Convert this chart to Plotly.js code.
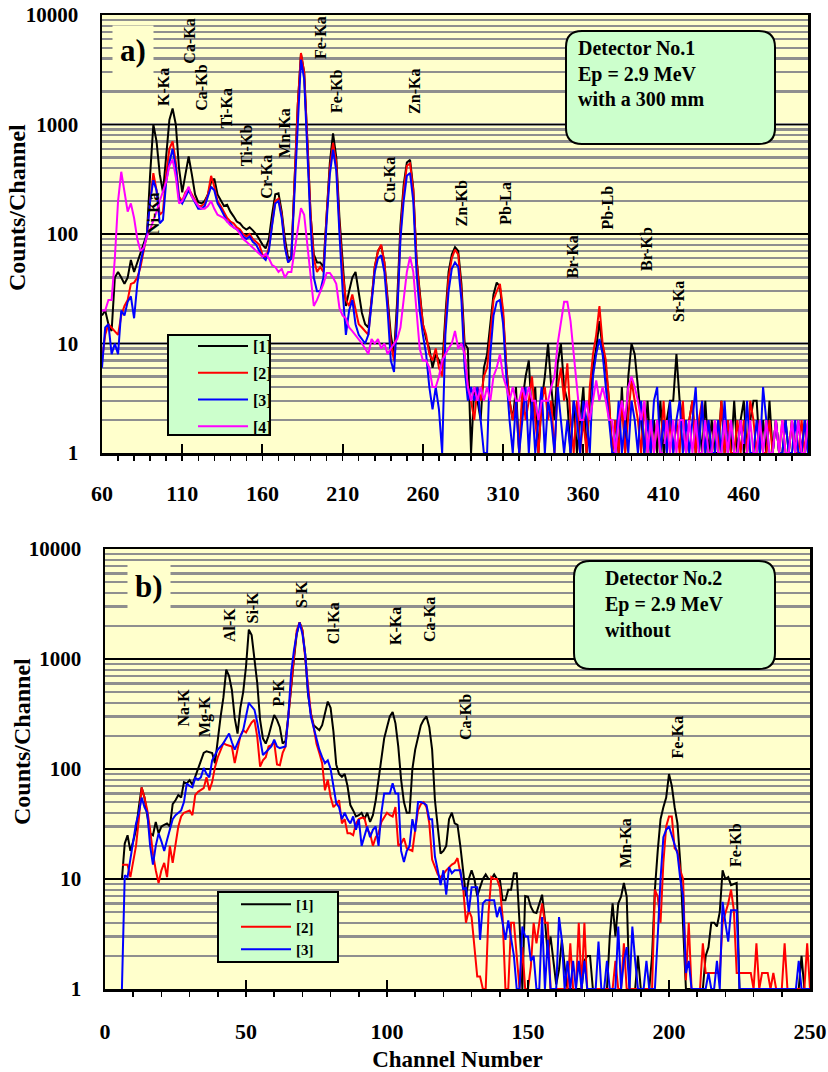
<!DOCTYPE html>
<html><head><meta charset="utf-8">
<script src="https://cdn.plot.ly/plotly-3.0.1.min.js"></script>
<style>html,body{margin:0;padding:0;background:#fff}</style>
</head><body><div id="chart" style="width:828px;height:1072px"></div>
<script>
// ---------------- DATA: panel a) Detector No.1 ----------------
const topChannels = [
60,62,64,66,68,70,72,74,76,78, 80,82,84,86,88,90,92,94,96,98,
100,102,104,106,108,110,112,114,116,118, 120,122,124,126,128,130,132,134,136,138,
140,142,144,146,148,150,152,154,156,158, 160,162,164,166,168,170,172,174,176,178,
180,182,184,186,188,190,192,194,196,198, 200,202,204,206,208,210,212,214,216,218,
220,222,224,226,228,230,232,234,236,238, 240,242,244,246,248,250,252,254,256,258,
260,262,264,266,268,270,272,274,276,278, 280,282,284,286,288,290,292,294,296,298,
300,302,304,306,308,310,312,314,316,318, 320,322,324,326,328,330,332,334,336,338,
340,342,344,346,348,350,352,354,356,358, 360,362,364,366,368,370,372,374,376,378,
380,382,384,386,388,390,392,394,396,398, 400,402,404,406,408,410,412,414,416,418,
420,422,424,426,428,430,432,434,436,438, 440,442,444,446,448,450,452,454,456,458,
460,462,464,466,468,470,472,474,476,478, 480,482,484,486,488,490,492,494,496,498,
500];
const topSeries1 = [
18,20,15,13,40,45,40,35,40,58, 45,55,70,85,100,350,1000,700,350,240,
500,1100,1400,1000,400,240,350,510,350,230, 195,190,200,230,300,320,230,200,180,185,
160,145,130,125,115,110,115,108,100,90, 80,74,90,150,230,235,160,90,60,62,
300,1500,4400,3000,700,150,65,55,55,50, 150,450,830,500,140,50,22,30,40,45,
30,19,15,14,25,50,70,78,55,25, 12,8,25,120,280,450,475,260,60,30,
15,11,9,6,8,7,6,18,45,65, 76,70,35,10,9,1,4,3,2,6,
8,15,28,36,33,18,6,3,2,4, 1,3,5,7,2,4,1,3,5,10,
4,2,6.6,10,4,3,1,3,1,2, 4,1,3,6,9,16,9,6,3,1,
2,1,4,1,5,10,8,4,2,1, 3,1,2,1,3,1,2,3,3,8,
3,2,1,2,3,1,2,1,3,1, 2,1,1,3,1,2,1,3,1,2,
3,1,2,3,3,1,2,1,3,1, 2,1,1,2,1,2,1,2,1,2,
1];
const topSeries2 = [
7,12,15,14,13,12,18,22,25,35, 36,40,50,70,100,200,360,250,150,160,
350,600,700,450,220,200,240,260,230,200, 180,180,190,230,340,270,200,180,160,140,
130,125,115,110,100,95,100,90,85,80, 65,60,75,130,200,210,150,80,55,60,
300,1500,4500,3000,700,150,60,45,50,45, 150,400,680,450,120,45,25,22,28,20,
15,14,13,12,25,50,70,80,55,25, 10,7,20,100,250,420,440,250,60,28,
15,12,8,7,9,6,5,15,40,60, 72,65,30,8,4,3,2,4,3,5,
6,12,25,30,35,20,6,3,2,3, 1,4,2,3,5,2,1,3,4,2,
3,1,4,6,3,6.6,2,1,3,1, 2,1,4,8,12,22,10,7,3,1,
2,1,3,1,2,4.6,3,2,1,3, 1,2,1,2,1,3,1,2,1,2,
1,3,1,2,3,1,2,3,1,2, 1,2,1,3,1,2,1,1,2,1,
2,1,3,2,1,2,1,1,2,1, 2,1,2,1,1,2,1,1,2,1,
2];
const topSeries3 = [
6,14,15,8,10,8,20,18,24,27, 17,35,55,75,100,200,310,250,125,135,
300,450,600,400,210,190,220,250,220,190, 170,170,180,220,270,250,190,170,150,130,
125,115,110,105,95,90,95,85,80,70, 62,58,70,120,190,200,140,75,55,60,
250,1300,3900,2600,600,120,40,30,30,40, 130,350,590,380,100,30,12,20,25,15,
12,11,10,12,22,45,60,64,45,20, 7,5.5,18,90,200,340,360,200,45,20,
12,8,4,2.5,4,2.5,1,12,30,48, 55,50,25,6,3,4,3,4,2,1,
1,8,18,24,25,15,5,2,1,3, 1,2,4,1,3,1,2,4,1,3,
2,1,4,2,1,2,1,3,2,1, 3,2,1,5,8,11,8,4,2,1,
1,3,1,2,1,3,2,1,3,1, 2,1,3,4,1,2,1,3,1,2,
3,1,2,1,2,4,1,3,1,2, 1,1,2,1,3,1,2,1,1,2,
1,3,1,1,2,1,4,2,1,1, 2,1,1,2,1,1,2,1,1,2,
1];
const topSeries4 = [
20,20,25,25,60,200,370,250,160,190, 140,90,70,75,95,110,130,160,200,240,
300,420,480,330,190,200,230,270,220,200, 180,170,170,180,200,170,150,145,140,130,
120,115,110,100,90,85,80,75,70,66, 62,66,60,52,50,45,48,40,45,45,
70,120,172,150,80,40,22,25,30,35, 44,44,40,35,21,18,17,14,13,12,
11,10,9,8,11,10,11,9,10,8, 9,10,11,14,25,45,62,45,20,9,
7,7,6,4,4,5,7,8,9,10, 13,9,10,8,4,3,4,3,4,3,
4,3,5,6,8,5,4,3,4,3, 3,4,3,4,3,3,2,3,3,3,
4,5,10,16,24,24,16,8,4,2, 2,3,2,3,4.6,3,4,3,2,2,
1,2,3,2,4,5,4,3,2,3, 1,2,1,2,1,1,2,1,2,1,
2,2,1,2,1,2,1,1,2,1, 1,2,1,1,2,1,2,1,1,2,
1,1,2,1,1,2,1,2,1,1, 2,1,2,1,1,2,1,2,1,1,
2];
const topSeriesNames = ['[1]', '[2]', '[3]', '[4]'];
const topPeakNames = ['K-Ka','Ca-Ka','Ca-Kb','Ti-Ka','Ti-Kb','Cr-Ka','Mn-Ka','Fe-Ka','Fe-Kb','Cu-Ka','Zn-Ka','Zn-Kb','Pb-La','Br-Ka','Pb-Lb','Br-Kb','Sr-Ka','Ni-Ka'];
const topPeakChannels = [98, 114, 121.5, 137, 150.5, 162, 174, 196.5, 206.5, 239.5, 255, 284, 311, 353, 375, 399, 419, 92.5];

// ---------------- DATA: panel b) Detector No.2 ----------------
const bottomChannels = [
6,7,8,9,10,11,12,13,14,15, 16,17,18,19,20,21,22,23,24,25,
26,27,28,29,30,31,32,33,34,35, 36,37,38,39,40,41,42,43,44,45,
46,47,48,49,50,51,52,53,54,55, 56,57,58,59,60,61,62,63,64,65,
66,67,68,69,70,71,72,73,74,75, 76,77,78,79,80,81,82,83,84,85,
86,87,88,89,90,91,92,93,94,95, 96,97,98,99,100,101,102,103,104,105,
106,107,108,109,110,111,112,113,114,115, 116,117,118,119,120,121,122,123,124,125,
126,127,128,129,130,131,132,133,134,135, 136,137,138,139,140,141,142,143,144,145,
146,147,148,149,150,151,152,153,154,155, 156,157,158,159,160,161,162,163,164,165,
166,167,168,169,170,171,172,173,174,175, 176,177,178,179,180,181,182,183,184,185,
186,187,188,189,190,191,192,193,194,195, 196,197,198,199,200,201,202,203,204,205,
206,207,208,209,210,211,212,213,214,215, 216,217,218,219,220,221,222,223,224,225,
226,227,228,229,230,231,232,233,234,235, 236,237,238,239,240,241,242,243,244,245,
246,247,248,249,250];
const bottomSeries1 = [
10,21,25,18,22,28,45,68,55,38, 26,25,33,26,30,31,32,30,48,52,
58,55,76,74,79,72,85,100,120,140, 145,142,140,113,190,300,450,800,700,520,
290,210,360,500,850,1850,1650,1000,600,280, 190,170,200,250,310,280,240,170,180,300,
600,1000,1700,2150,1830,1100,480,320,250,235, 225,250,330,410,360,220,110,90,85,90,
70,47,42,37,38,40,35,40,33,38, 52,80,130,190,240,300,330,260,160,80,
50,40,40,100,150,195,250,280,300,240, 150,52,28,17,18,20,35,40,32,31,
20,12,7,10,12,10,7,8.4,10,11, 10,10,11,10,10,6.4,6.4,8,8,11.3,
11.3,4,1,7,6.9,5.6,5,4.9,6,7.2, 4.2,2.1,3,1.8,1.1,1.5,2.8,1.6,1,1,
1,1,1,1,1.8,2,2,1,1,1, 1,1,1,3,6,3,6,6.9,9.2,6.9,
1,1,1,2,1,1,1,1,2,8, 18,35,45,55,90,70,45,32,14,3.4,
1,1,1,1,1,1,1,2,2.4,4, 4,3.7,5,12,10,10.4,8.8,9,9.2,1,
1,1,1,1,1,1,1,1,1,1, 1,1,1,1,1,1,1,1,1,1,
1,2,1,1,1];
const bottomSeries2 = [
13.5,13.5,13.5,10.4,15,20,35,68,55,42, 28,17,12,9.2,12,14,10.4,20,14,21,
30,37,40,41,42,38,58,62,65,67, 84,64,76,104,128,150,172,166,163,160,
113,150,200,225,215,240,265,280,195,105, 120,128,160,165,175,110,108,140,160,300,
600,1050,1830,2150,1830,1000,550,320,240,170, 140,113,64,80,56,45,48,52,32,35,
26,26,25,32,35,36,36,28,26,20, 24,26,33,36,40,38,37,45,20,21,
23.5,19,18.5,18,28,42,48,50,45,32, 15,13,11,10.4,11,12,12.8,13.5,14,15.5,
11.3,8.4,4,5.2,4.5,2.5,1.3,1.3,1,1, 4.9,10.4,10,10,8.4,4.5,1,1,4,4,
2.1,1,2.4,1,1,1.6,4,2.6,4,6, 4,4,1,1,1,1,1,1,1,2.6,
1,1,4,1,4,1,1,1,1,1, 1,1,1,1,1,1.8,1,1,2.6,1,
1,1,1,1,1,1,1,1,1,8, 6.9,4,14,30,37,37,19,18,12,10,
1.2,4,1,1,1,1,2.6,1.4,1.4,1.4, 1.4,1.4,1.4,4,4.9,6,8,5.2,1.4,1.4,
1.4,1.4,1.4,1.4,1,2.6,1,1.4,1.4,1.4, 1,1.4,1,1,1,2.6,1,1,1,1,
1,1,1,2.6,1];
const bottomSeries3 = [
1,10.8,10.4,15,22,32,40,55,45,40, 20,13.5,20,26,22,18,22.6,28,35,38,
40,42,50,74,70,68,83,80,84,102, 90,84,120,135,150,160,172,190,210,175,
150,172,200,225,300,400,370,345,265,185, 134,142,150,160,185,160,155,158,160,300,
750,1200,1700,2150,1700,1100,500,300,240,195, 150,128,113,120,100,70,49,45,35,40,
35,32,37,28,35,20,25,30,24,28, 30,20,40,60,60,60,74,60,60,18,
14.3,18,20,35,27,50,50,49,47,35, 35,16,12,8.8,12,7.2,12.8,11.3,12,12,
12,8,8.4,5,8.4,8.4,8.4,2.8,6,6.4, 6.4,6.4,6.4,4.5,5.6,4,2.8,4.2,3,2,
1,1,3.7,3,3,1.8,2,1,1,4.5, 1,2.8,1,1,1,4.5,2.8,1,1.8,1,
1.8,1,1.8,1,1.8,1,1,1,1,2.7, 1,1,1.8,1,1,1,3.7,1,1.8,2.4,
1,3.7,1.8,1,1,1,1.8,1,1,1, 3,10,24,28,30,25,20,17,10,6.9,
1.4,1.8,1,1,1,1,1,1,1.4,1, 1,1.8,1,6.2,4,2.7,5.2,5.2,5.2,1,
1,1,1,1,1,1,1,1,1,1, 1,1,1,1,1,1,1,1,1,1,
1.8,1,1,1,1];
const bottomSeriesNames = ['[1]', '[2]', '[3]'];
const bottomPeakNames = ['Na-K','Mg-K','Al-K','Si-K','P-K','S-K','Cl-Ka','K-Ka','Ca-Ka','Ca-Kb','Mn-Ka','Fe-Ka','Fe-Kb'];
const bottomPeakChannels = [27.5, 35.5, 44, 52.3, 61.2, 69.5, 80.9, 102.8, 114.9, 127.7, 184.4, 203, 223.4];

const yTickValues = [1, 10, 100, 1000, 10000];
const yTickLabels = ['1', '10', '100', '1000', '10000'];

// ---------------- STYLE / LAYOUT ----------------
const W = 828, H = 1072;
const PX = v => v / W;
const PY = v => 1 - v / H;
const FAM = '"Liberation Serif", "Times New Roman", Times, serif';
const seriesColors = ['#000000', '#FF0000', '#0000FF', '#FF00FF'];
// vertical pixel centres of the rotated peak labels (style only)
const topPeakLabelY = [87, 41, 88, 108, 145, 177, 133, 38, 91, 180, 91, 203, 203, 257, 207, 249, 302, 213];
const bottomPeakLabelY = [708, 717, 625, 607, 693, 594, 623, 626, 620, 717, 843, 737, 845];

const topY = [topSeries1, topSeries2, topSeries3, topSeries4];
const botY = [bottomSeries1, bottomSeries2, bottomSeries3];

const traces = [];
topY.forEach((ys, i) => traces.push({
  type: 'scatter', mode: 'lines', x: topChannels, y: ys, name: topSeriesNames[i],
  xaxis: 'x', yaxis: 'y', legend: 'legend', legendgroup: 'a' + i,
  line: {color: seriesColors[i], width: 2}
}));
botY.forEach((ys, i) => traces.push({
  type: 'scatter', mode: 'lines', x: bottomChannels, y: ys, name: bottomSeriesNames[i],
  xaxis: 'x2', yaxis: 'y2', legend: 'legend2', legendgroup: 'b' + i,
  line: {color: seriesColors[i], width: 2}
}));

function xAxis(domain, range, anchor, standoff) {
  return {
    domain, range, anchor, tick0: range[0] === 60 ? 60 : 0, dtick: 50,
    ticks: 'inside', ticklen: 9, tickwidth: 2, tickcolor: '#000',
    minor: {dtick: 10, ticks: 'outside', ticklen: 5, tickwidth: 1.5, tickcolor: '#000', showgrid: false},
    showline: true, linewidth: 2.5, linecolor: '#000', mirror: true,
    showgrid: false, zeroline: false, ticklabelstandoff: standoff,
    tickfont: {family: FAM, size: 22, weight: 'bold', color: '#000'}
  };
}
function yAxis(domain, anchor) {
  return {
    domain, anchor, type: 'log', range: [0, 4],
    tickmode: 'array', tickvals: yTickValues, ticktext: yTickLabels,
    ticks: '', showline: true, linewidth: 2.5, linecolor: '#000', mirror: true,
    showgrid: true, gridcolor: '#000', gridwidth: 1.6, zeroline: false,
    minor: {dtick: 'D1', showgrid: true, gridcolor: '#8f8f8f', gridwidth: 2.2, ticks: ''},
    ticklabelstandoff: 17,
    tickfont: {family: FAM, size: 21, weight: 'bold', color: '#000'}
  };
}

const xa = xAxis([PX(102), PX(808)], [60, 500], 'y', 19);
const xb = xAxis([PX(105), PX(810)], [0, 250], 'y2', 21);
xb.title = {text: 'Channel Number', standoff: 14, font: {family: FAM, size: 23, weight: 'bold', color: '#000'}};

function roundedBox(x0, y0, x1, y1, r) {
  const X = v => (v / W).toFixed(5), Y = v => (1 - v / H).toFixed(5);
  return `M${X(x0 + r)},${Y(y0)} L${X(x1 - r)},${Y(y0)} Q${X(x1)},${Y(y0)} ${X(x1)},${Y(y0 + r)} ` +
    `L${X(x1)},${Y(y1 - r)} Q${X(x1)},${Y(y1)} ${X(x1 - r)},${Y(y1)} L${X(x0 + r)},${Y(y1)} ` +
    `Q${X(x0)},${Y(y1)} ${X(x0)},${Y(y1 - r)} L${X(x0)},${Y(y0 + r)} Q${X(x0)},${Y(y0)} ${X(x0 + r)},${Y(y0)} Z`;
}

const shapes = [
  {type: 'path', xref: 'paper', yref: 'paper', path: roundedBox(566, 31, 775, 144, 16), fillcolor: '#CCFFCC', line: {color: '#000', width: 2}, layer: 'above'},
  {type: 'path', xref: 'paper', yref: 'paper', path: roundedBox(574, 561, 775, 669, 16), fillcolor: '#CCFFCC', line: {color: '#000', width: 2}, layer: 'above'},
  {type: 'rect', xref: 'paper', yref: 'paper', x0: PX(168), x1: PX(270), y0: PY(435), y1: PY(335), fillcolor: '#CCFFCC', line: {color: '#000', width: 2}, layer: 'above'},
  {type: 'rect', xref: 'paper', yref: 'paper', x0: PX(218), x1: PX(338), y0: PY(962), y1: PY(892), fillcolor: '#CCFFCC', line: {color: '#000', width: 2}, layer: 'above'}
];

const bold = (size) => ({family: FAM, size, weight: 'bold', color: '#000'});
const annotations = [];
annotations.push({xref: 'paper', yref: 'paper', x: PX(17), y: PY(208), xanchor: 'center', yanchor: 'middle', textangle: -90,
  text: 'Counts/Channel', showarrow: false, font: bold(24)});
annotations.push({xref: 'paper', yref: 'paper', x: PX(22), y: PY(742), xanchor: 'center', yanchor: 'middle', textangle: -90,
  text: 'Counts/Channel', showarrow: false, font: bold(24)});
annotations.push({xref: 'paper', yref: 'paper', x: PX(133), y: PY(50), xanchor: 'center', yanchor: 'middle', text: 'a)', showarrow: false, font: bold(31), bgcolor: '#FFFFCC', borderpad: 7});
annotations.push({xref: 'paper', yref: 'paper', x: PX(149), y: PY(586), xanchor: 'center', yanchor: 'middle', text: 'b)', showarrow: false, font: bold(31), bgcolor: '#FFFFCC', borderpad: 7});
[['Detector No.1', 48], ['Ep = 2.9 MeV', 74], ['with a 300 mm', 99]].forEach(([t, y]) =>
  annotations.push({xref: 'paper', yref: 'paper', x: PX(576), y: PY(y), xanchor: 'left', yanchor: 'middle', text: t, showarrow: false, font: bold(20)}));
[['Detector No.2', 578], ['Ep = 2.9 MeV', 604], ['without', 630]].forEach(([t, y]) =>
  annotations.push({xref: 'paper', yref: 'paper', x: PX(603), y: PY(y), xanchor: 'left', yanchor: 'middle', text: t, showarrow: false, font: bold(20)}));
topPeakNames.forEach((t, i) => annotations.push({xref: 'x', yref: 'paper', x: topPeakChannels[i], y: PY(topPeakLabelY[i]),
  text: t, textangle: -90, showarrow: false, font: bold(16), xanchor: 'center', yanchor: 'middle'}));
bottomPeakNames.forEach((t, i) => annotations.push({xref: 'x2', yref: 'paper', x: bottomPeakChannels[i], y: PY(bottomPeakLabelY[i]),
  text: t, textangle: -90, showarrow: false, font: bold(16), xanchor: 'center', yanchor: 'middle'}));

const layout = {
  width: W, height: H, autosize: false,
  margin: {l: 0, r: 0, t: 0, b: 0, pad: 0},
  paper_bgcolor: '#ffffff', plot_bgcolor: '#FFFFCC',
  font: {family: FAM, color: '#000'},
  showlegend: true, hovermode: false,
  xaxis: xa, yaxis: yAxis([PY(453), PY(15)], 'x'),
  xaxis2: xb, yaxis2: yAxis([PY(989), PY(549)], 'x2'),
  legend: {x: PX(193), y: PY(329), xanchor: 'left', yanchor: 'top', bgcolor: 'rgba(0,0,0,0)', borderwidth: 0,
    font: bold(16), itemwidth: 50, tracegroupgap: 3, traceorder: 'grouped'},
  legend2: {x: PX(236), y: PY(888), xanchor: 'left', yanchor: 'top', bgcolor: 'rgba(0,0,0,0)', borderwidth: 0,
    font: bold(15), itemwidth: 50, tracegroupgap: 0, traceorder: 'grouped'},
  shapes, annotations
};

Plotly.newPlot('chart', traces, layout, {staticPlot: true, displayModeBar: false});
</script>
</body></html>
